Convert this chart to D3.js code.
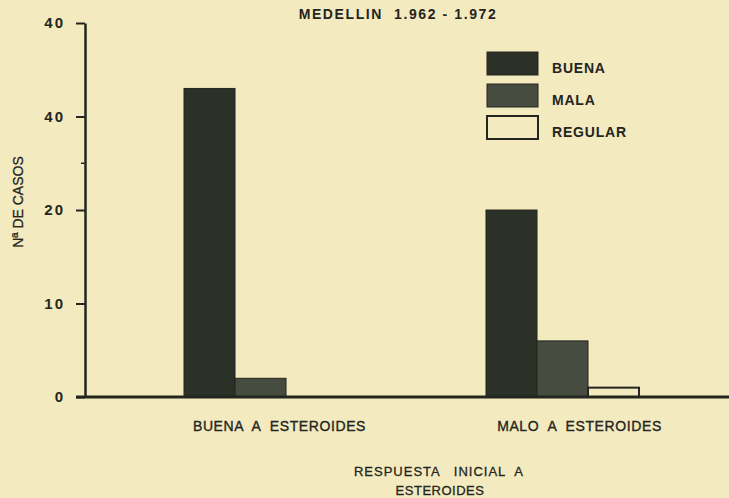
<!DOCTYPE html>
<html>
<head>
<meta charset="utf-8">
<script src="https://cdn.jsdelivr.net/npm/d3@7"></script>
<style>
  html, body { margin: 0; padding: 0; background: #f4eabf; }
  svg { display: block; }
  text { font-family: "Liberation Sans", Arial, sans-serif; fill: #23251e; }
</style>
</head>
<body>
<div id="chart"></div>
<script>
// respuesta inicial a esteroides, Medellin 1962-1972
const groups = ["BUENA A ESTEROIDES", "MALO A ESTEROIDES"];
const series = ["BUENA", "MALA", "REGULAR"];
const buena = [33, 20];
const mala = [2, 6];
const regular = [0, 1];
const tickValues = [0, 10, 20, 30, 40];
const tickLabels = ["0", "10", "20", "40", "40"]; // as printed
const minorTicks = [25];

const colors = { BUENA: "#2c3128", MALA: "#474c40", REGULAR: "#f4eabf" };
const ink = "#23261f";

const width = 729, height = 498;

const svg = d3.select("#chart")
  .append("svg")
    .attr("width", width)
    .attr("height", height);

const x0 = d3.scaleBand()
  .domain(groups)
  .range([184, 639])
  .paddingInner(0.4934);

const x1 = d3.scaleBand()
  .domain(series)
  .range([0, x0.bandwidth()]);

const y = d3.scaleLinear()
  .domain([0, 40])
  .range([397, 23]);

const values = { BUENA: buena, MALA: mala, REGULAR: regular };
const rows = [];
groups.forEach((g, i) => {
  series.forEach(s => rows.push({ group: g, key: s, value: values[s][i] }));
});

// bars
svg.append("g")
  .selectAll("rect")
  .data(rows.filter(d => d.value > 0))
  .enter()
  .append("rect")
    .attr("x", d => x0(d.group) + x1(d.key))
    .attr("y", d => y(d.value))
    .attr("width", x1.bandwidth())
    .attr("height", d => y(0) - y(d.value))
    .attr("fill", d => colors[d.key])
    .attr("stroke", ink)
    .attr("stroke-width", d => d.key === "REGULAR" ? 2 : 1);

// y axis
const yAxis = svg.append("g")
  .attr("transform", "translate(85,0)")
  .call(d3.axisLeft(y)
    .tickValues(tickValues)
    .tickFormat((d, i) => tickLabels[i])
    .tickSize(9)
    .tickSizeOuter(0)
    .tickPadding(11));

yAxis.select(".domain").attr("stroke", ink).attr("stroke-width", 2.5);
yAxis.selectAll(".tick line").attr("stroke", ink).attr("stroke-width", 2);
yAxis.selectAll(".tick text")
  .attr("font-size", 15)
  .attr("font-weight", "bold")
  .attr("letter-spacing", 2)
  .style("fill", ink);

yAxis.selectAll(".minor")
  .data(minorTicks)
  .enter()
  .append("line")
    .attr("class", "minor")
    .attr("x1", -4)
    .attr("x2", 0)
    .attr("y1", d => y(d))
    .attr("y2", d => y(d))
    .attr("stroke", ink)
    .attr("stroke-width", 1.5);

// baseline
svg.append("line")
  .attr("x1", 76)
  .attr("x2", width)
  .attr("y1", y(0))
  .attr("y2", y(0))
  .attr("stroke", ink)
  .attr("stroke-width", 3);

// group labels
const labelShift = [19, 17];
svg.append("g")
  .selectAll("text")
  .data(groups)
  .enter()
  .append("text")
    .attr("x", (d, i) => x0(d) + x0.bandwidth() / 2 + labelShift[i])
    .attr("y", 431)
    .attr("text-anchor", "middle")
    .attr("font-size", 14)
    .attr("letter-spacing", 0.6)
    .attr("stroke", "#23251e")
    .attr("stroke-width", 0.35)
    .style("white-space", "pre")
    .text(d => d.replace(/ A /, "  A  "));

// title
svg.append("text")
  .attr("x", 398)
  .attr("y", 19)
  .attr("text-anchor", "middle")
  .attr("font-size", 14)
  .attr("font-weight", "bold")
  .attr("letter-spacing", 1.6)
  .style("white-space", "pre")
  .text("MEDELLIN  1.962 - 1.972");

// y axis title
svg.append("text")
  .attr("transform", "translate(23,202) rotate(-90)")
  .attr("text-anchor", "middle")
  .attr("font-size", 14)
  .attr("stroke", "#23251e")
  .attr("stroke-width", 0.3)
  .style("white-space", "pre")
  .text("Nª DE CASOS");

// x axis title
svg.append("text")
  .attr("x", 439)
  .attr("y", 476)
  .attr("text-anchor", "middle")
  .attr("font-size", 13)
  .attr("letter-spacing", 1)
  .attr("stroke", "#23251e")
  .attr("stroke-width", 0.3)
  .style("white-space", "pre")
  .text("RESPUESTA   INICIAL  A");

svg.append("text")
  .attr("x", 440)
  .attr("y", 495)
  .attr("text-anchor", "middle")
  .attr("font-size", 13)
  .attr("letter-spacing", 0.5)
  .attr("stroke", "#23251e")
  .attr("stroke-width", 0.3)
  .text("ESTEROIDES");

// legend
const legend = svg.append("g")
  .selectAll("g")
  .data(series)
  .enter()
  .append("g")
    .attr("transform", (d, i) => `translate(487,${52 + i * 32})`);

legend.append("rect")
  .attr("width", 51)
  .attr("height", 23)
  .attr("fill", d => colors[d])
  .attr("stroke", ink)
  .attr("stroke-width", d => d === "REGULAR" ? 2 : 1);

legend.append("text")
  .attr("x", 65)
  .attr("y", 21)
  .attr("font-size", 14)
  .attr("font-weight", "bold")
  .attr("letter-spacing", 0.8)
  .text(d => d);
</script>
</body>
</html>
